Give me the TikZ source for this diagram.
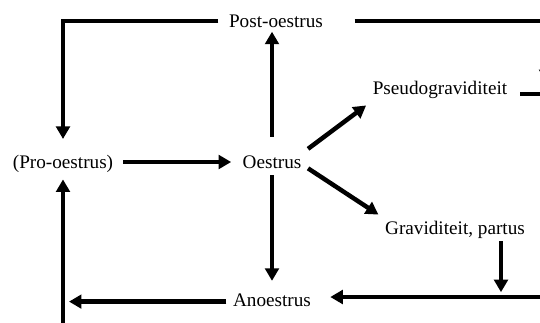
\documentclass[tikz,border=0pt]{standalone}
\usepackage{fontspec}
\setmainfont{Liberation Serif}
\usetikzlibrary{arrows.meta}
\begin{document}
\begin{tikzpicture}[x=0.625pt, y=-0.625pt,
    phase/.style={inner sep=4pt, font=\fontsize{12}{14}\selectfont},
    link/.style={line width=2.8pt},
    flow/.style={line width=2.8pt, -{Triangle[length=7.8pt, width=8.5pt]}}]
  \useasboundingbox (0,0) rectangle (540,322);
  \clip (0,0) rectangle (540,322);

  % Phases
  \node[phase] (post) at (276,21) {Post-oestrus};
  \node[phase] (pro) at (63,164) {(Pro-oestrus)};
  \node[phase] (oes) at (272,162) {Oestrus};
  \node[phase] (pseudo) at (440,90) {Pseudograviditeit};
  \node[phase] (grav) at (455,230) {Graviditeit, partus};
  \node[phase] (ano) at (272,300) {Anoestrus};
  \coordinate (ne) at (546,21);
  \coordinate (pjoin) at (546,94);
  \coordinate (bjoin) at (501,297);
  \coordinate (se) at (560,297);
  \coordinate (sw) at (63,330);

  % Around oestrus
  \draw[flow, shorten <=2pt, shorten >=3pt] (pro.east |- oes) -- (oes);
  \draw[flow, shorten <=7.5pt, shorten >=-1.5pt] (oes) -- (oes |- post.south);
  \draw[flow, shorten >=3.75pt] (oes) -- (oes |- ano.north);
  \draw[flow] (oes.north east) -- (pseudo.south west);
  \draw[flow] (oes.-10) -- (grav.north west);

  % Back to pro-oestrus
  \draw[flow, shorten <=2.5pt, shorten >=6pt] (post.west) -- (post.west -| pro) -- (pro.north);
  \draw[flow, shorten >=3.75pt] ([yshift=-1pt]ano.west) -- ([yshift=-1pt]ano.west -| pro);
  \draw[flow] (sw) -- (pro.south);

  % Right-hand side
  \draw[flow, shorten <=15.6pt, shorten >=7.5pt] (post.east) -- (ne) -- (pjoin);
  \draw[link, shorten <=4pt] (pseudo.east |- pjoin) -- (pjoin);
  \draw[flow, shorten <=-2.75pt, shorten >=3pt] (grav.south -| bjoin) -- (bjoin);
  \draw[flow, shorten >=7.9pt] (se) -- (se -| ano.east);
\end{tikzpicture}
\end{document}
